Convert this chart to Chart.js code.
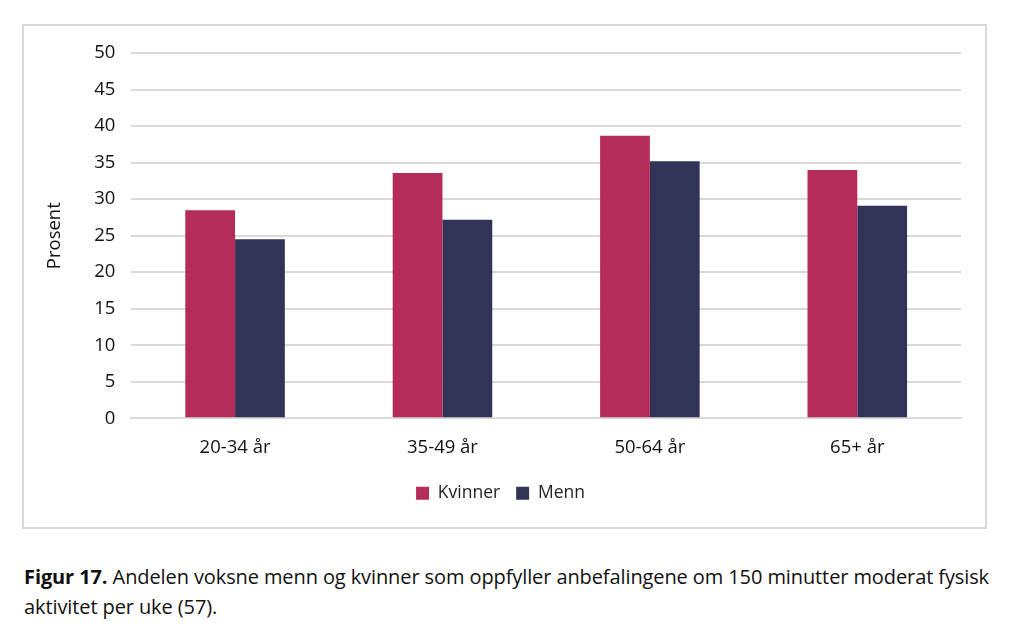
<!DOCTYPE html>
<html>
<head>
<meta charset="utf-8">
<script src="https://cdn.jsdelivr.net/npm/chart.js@4"></script>
<style>
    body { margin: 0; background: #fff; font-family: 'Open Sans', sans-serif; }
    #box {
        position: absolute; left: 22px; top: 24px; width: 961px; height: 501px;
        border: 2px solid #d9d9d9; background: #fff;
    }
    #caption {
        position: absolute; left: 24px; top: 562px; width: 990px;
        font-family: 'Open Sans', sans-serif;
        font-size: 20px; line-height: 30px; color: #111; letter-spacing: -0.1px;
    }
</style>
</head>
<body>
<div id="box"><canvas id="barChart" width="961" height="501"></canvas></div>
<div id="caption"><b>Figur 17.</b> Andelen voksne menn og kvinner som oppfyller anbefalingene om 150 minutter moderat fysisk aktivitet per uke (57).</div>
<script>
const categories = ['20-34 år', '35-49 år', '50-64 år', '65+ år'];
const kvinner = [28.5, 33.6, 38.7, 34.0];
const menn = [24.5, 27.2, 35.2, 29.1];

document.addEventListener('DOMContentLoaded', function () {
    const ctx = document.getElementById('barChart').getContext('2d');
    new Chart(ctx, {
        type: 'bar',
        data: {
            labels: categories,
            datasets: [{
                label: 'Kvinner',
                data: kvinner,
                backgroundColor: '#b32c5a'
            }, {
                label: 'Menn',
                data: menn,
                backgroundColor: '#323457'
            }]
        },
        options: {
            responsive: false,
            animation: false,
            datasets: { bar: { barPercentage: 1, categoryPercentage: 0.48 } },
            layout: { padding: { left: 16, right: 24, top: 7, bottom: 15 } },
            plugins: {
                legend: {
                    position: 'bottom',
                    labels: {
                        boxWidth: 13, boxHeight: 13, padding: 16,
                        color: '#222',
                        font: { family: 'Open Sans', size: 17.5 }
                    }
                },
                tooltip: { enabled: false }
            },
            scales: {
                x: {
                    grid: { display: false },
                    border: { color: '#d9d9d9', width: 2 },
                    ticks: { color: '#111', padding: 10, font: { family: 'Open Sans', size: 18.5 } }
                },
                y: {
                    min: 0, max: 50,
                    ticks: { stepSize: 5, color: '#111', padding: 16, font: { family: 'Open Sans', size: 18.5 } },
                    grid: { color: '#d9d9d9', lineWidth: 2, drawTicks: false },
                    border: { display: false },
                    title: {
                        display: true, text: 'Prosent', color: '#111', padding: { bottom: 12 },
                        font: { family: 'Open Sans', size: 18.5 }
                    }
                }
            }
        }
    });
});
</script>
</body>
</html>
